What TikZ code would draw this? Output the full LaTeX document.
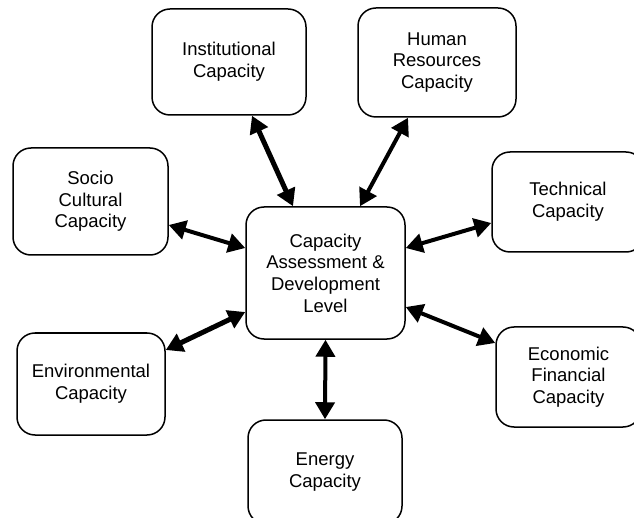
\documentclass[tikz,border=0pt]{standalone}
\usepackage{fontspec}
\setmainfont{Liberation Sans}
\usetikzlibrary{arrows.meta}

\tikzset{
  capbox/.style={draw, line width=1.5pt, rounded corners=18pt, align=center,
                 inner sep=0pt, font=\fontsize{18.5}{21.7}\selectfont},
  link/.style={line width=4pt,
               {Triangle[length=17pt,width=19pt]}-{Triangle[length=17pt,width=19pt]}},
  boldlink/.style={link, line width=5pt},
}

\begin{document}
\begin{tikzpicture}[x=1pt,y=-1pt]
\useasboundingbox (0,0) rectangle (634,518);
\clip (0,0) rectangle (634,518);

%% boxes
\node[capbox, minimum width=159pt, minimum height=132pt] (cap) at (325.5,273)
     {Capacity\\Assessment \&\\Development\\Level};                        %% centre
\node[capbox, minimum width=154pt, minimum height=106pt] (inst) at (229,62)
     {Institutional\\Capacity};                                           %% top left
\node[capbox, minimum width=158pt, minimum height=109pt] (human) at (437,62.5)
     {Human\\Resources\\Capacity};                                        %% top right
\node[capbox, minimum width=155pt, minimum height=107pt] (socio) at (90.5,201.5)
     {Socio\\Cultural\\Capacity};                                         %% left
\node[capbox, minimum width=148pt, minimum height=102pt] (env) at (91,384)
     {Environmental\\Capacity};                                           %% lower left
\node[capbox, minimum width=152pt, minimum height=100pt] (tech) at (568,202)
     {Technical\\Capacity};                                               %% right
\node[capbox, minimum width=145pt, minimum height=100pt] (econ) at (568.5,377)
     {Economic\\Financial\\Capacity};                                     %% lower right
\node[capbox, minimum width=154pt, minimum height=104pt] (energy) at (325,472)
     {Energy\\Capacity};                                                  %% bottom

%% links
\draw[boldlink] ([xshift=23pt]inst.south) -- ([xshift=-32.5pt]cap.north);     %% inst
\draw[link] ([xshift=-29pt]human.south) -- ([xshift=34.5pt]cap.north);         %% human
\draw[link] ([yshift=-23.5pt]socio.east) -- ([yshift=25pt]cap.west);           %% socio
\draw[boldlink] ([yshift=34pt]env.east) -- ([yshift=-39pt]cap.west);           %% env
\draw[link] ([yshift=-21pt]tech.west) -- ([yshift=25pt]cap.east);              %% tech
\draw[link] ([yshift=34pt]econ.west) -- ([yshift=-34pt]cap.east);              %% econ
\draw[link] (cap.south) -- (energy.north);                                     %% energy
\end{tikzpicture}
\end{document}
